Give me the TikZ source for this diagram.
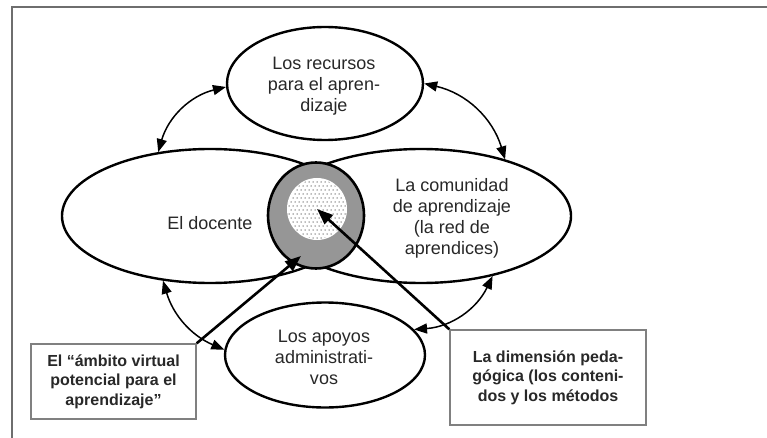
\documentclass[tikz,border=0pt]{standalone}
\usepackage{fontspec}
\setmainfont{Liberation Sans}
\usetikzlibrary{shapes.geometric,arrows.meta}
\definecolor{ringgray}{RGB}{150,150,150}
\definecolor{framegray}{RGB}{110,110,110}
\definecolor{boxgray}{RGB}{128,128,128}
\definecolor{txt}{RGB}{40,40,40}
\definecolor{dotgray}{RGB}{120,120,120}
\begin{document}
\begin{tikzpicture}[x=1pt,y=-1pt,
  oval/.style={ellipse, draw=black, line width=2.4pt, inner sep=0pt},
  lbl/.style={align=center, text=txt, font=\fontsize{18}{21}\selectfont},
  infobox/.style={draw=boxgray, line width=1.4pt, fill=white, align=center, inner sep=0pt, text=txt, font=\fontsize{16}{19.5}\selectfont\bfseries},
  link/.style={line width=1.5pt, {Triangle[length=13pt,width=10pt]}-{Triangle[length=13pt,width=10pt]}},
  pointer/.style={line width=2.6pt, -{Triangle[length=16pt,width=12pt]}}
]
\useasboundingbox (0,0) rectangle (767,438);
\fill[white] (0,0) rectangle (767,438);
% frame
\draw[framegray, line width=1.5pt] (12,438) -- (12,7) -- (767,7);

% ellipses
\node[oval, minimum width=196pt, minimum height=113pt] (top) at (325,83.5) {};
\node[oval, minimum width=296pt, minimum height=134pt] (left) at (210,216) {};
\node[oval, minimum width=300pt, minimum height=134pt] (right) at (421,216) {};
\node[oval, minimum width=200pt, minimum height=105pt] (bottom) at (325,355) {};

% central ring
\node[ellipse, draw=black, line width=2.6pt, fill=ringgray, minimum width=96pt, minimum height=106pt, inner sep=0pt] (ring) at (316,215.5) {};
\node[ellipse, fill=white, minimum width=60pt, minimum height=62pt, inner sep=0pt] (dotc) at (317,209) {};
\begin{scope}
  \clip (dotc.center) ellipse [x radius=29pt, y radius=30pt];
  \foreach \i in {0,...,15} {
    \foreach \j in {0,...,16} {
      \pgfmathsetmacro\xx{287+4*\i+2*mod(\j,2)}
      \pgfmathsetmacro\yy{178+4*\j}
      \fill[dotgray] (\xx,\yy) circle[radius=0.75pt];
    }
  }
\end{scope}

% labels
\node[lbl] (ttop) at (324,86) {Los recursos\\para el apren-\\dizaje};
\node[lbl] (tleft) at (210,223) {El docente};
\node[lbl] (tright) at (452,218) {La comunidad\\de aprendizaje\\(la red de\\aprendices)};
\node[lbl] (tbot) at (324,357) {Los apoyos\\administrati-\\vos};

% curved double arrows
\draw[link] (left.129) to[bend left=30] (top.182);
\draw[link] (top.0) to[bend left=30] (right.34);
\draw[link] (left.234) to[bend right=25] (bottom.177);
\draw[link] (right.320) to[bend left=30] (bottom.16);

% boxes
\node[infobox, minimum width=165pt, minimum height=75pt] (boxA) at (113.5,381.5) {El “ámbito virtual\\potencial para el\\aprendizaje”};
\node[infobox, minimum width=196pt, minimum height=95pt] (boxB) at (548,377.5) {La dimensión peda-\\gógica (los conteni-\\dos y los métodos};

% pointers
\coordinate (tipA) at (301,256);
\draw[pointer] (boxA.north east) -- (tipA);
\draw[pointer] (boxB.north west) -- (dotc.center);
\end{tikzpicture}
\end{document}
